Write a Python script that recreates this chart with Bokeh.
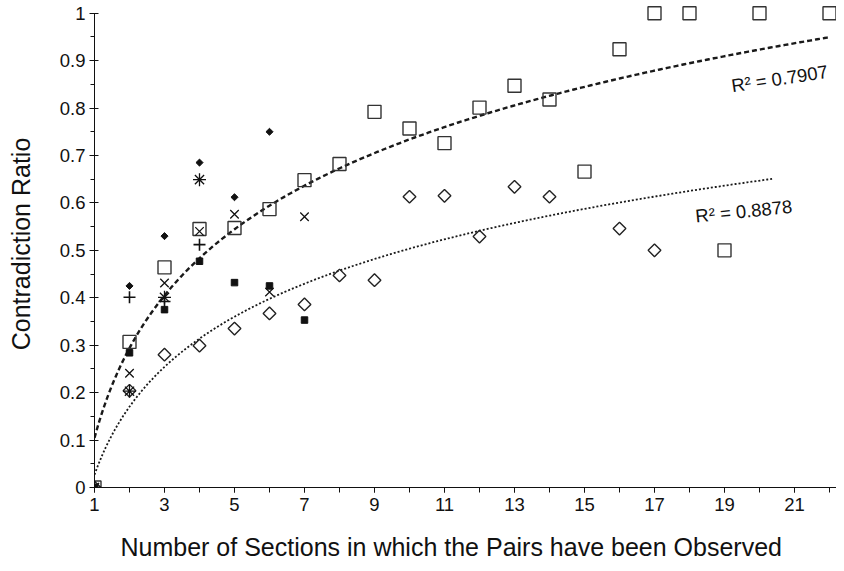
import numpy as np
from bokeh.plotting import figure
from bokeh.models import Range1d, FixedTicker, NumeralTickFormatter, Title
from bokeh.embed import file_html
from bokeh.resources import INLINE
from bokeh.core.properties import value

# ---------------- data ----------------
sections_sq = [1, 2, 3, 4, 5, 6, 7, 8, 9, 10, 11, 12, 13, 14, 15, 16, 17, 18, 19, 20, 22]
ratio_sq = [0.0, 0.307, 0.464, 0.545, 0.547, 0.587, 0.648, 0.682, 0.792, 0.757, 0.726,
            0.801, 0.847, 0.818, 0.666, 0.924, 1.0, 1.0, 0.5, 1.0, 1.0]
sections_dm = [1, 2, 3, 4, 5, 6, 7, 8, 9, 10, 11, 12, 13, 14, 16, 17]
ratio_dm = [0.0, 0.204, 0.280, 0.299, 0.335, 0.367, 0.386, 0.447, 0.437, 0.613, 0.615,
            0.529, 0.634, 0.613, 0.546, 0.500]
sections_fd = [1, 2, 3, 4, 5, 6]
ratio_fd = [0.0, 0.425, 0.530, 0.685, 0.612, 0.750]
sections_fs = [1, 2, 3, 4, 5, 6, 7]
ratio_fs = [0.0, 0.284, 0.375, 0.477, 0.432, 0.425, 0.353]
sections_x = [1, 2, 3, 4, 5, 6, 7]
ratio_x = [0.0, 0.241, 0.431, 0.540, 0.576, 0.412, 0.571]
sections_ast = [1, 2, 3, 4]
ratio_ast = [0.0, 0.203, 0.401, 0.649]
sections_pl = [1, 2, 3, 4]
ratio_pl = [0.0, 0.401, 0.392, 0.512]

x_ticks_labeled = [1, 3, 5, 7, 9, 11, 13, 15, 17, 19, 21]
x_ticks_all = [1, 2, 3, 4, 5, 6, 7, 8, 9, 10, 11, 12, 13, 14, 15, 16, 17, 18, 19, 20, 21, 22]
y_ticks = [0, 0.1, 0.2, 0.3, 0.4, 0.5, 0.6, 0.7, 0.8, 0.9, 1.0]
y_minor = [0.05, 0.15, 0.25, 0.35, 0.45, 0.55, 0.65, 0.75, 0.85, 0.95]

r2_sq_label = "R\u00b2 = 0.7907"
r2_dm_label = "R\u00b2 = 0.8878"
x_title = "Number of Sections in which the Pairs have been Observed"
y_title = "Contradiction Ratio"

FONT = "Liberation Sans"
INK = "#111111"

# ---------------- figure ----------------
PX_PER_X = 35.0
PX_PER_Y = 474.3
FW, FH = 742, 487
p = figure(frame_width=FW, frame_height=FH,
           x_range=Range1d(1, 1 + FW / PX_PER_X), y_range=Range1d(0, FH / PX_PER_Y),
           output_backend="svg", toolbar_location=None,
           min_border_left=94, min_border_right=0, min_border_top=0, min_border_bottom=20)
p.outline_line_color = None
p.grid.visible = False
p.background_fill_color = "white"
p.border_fill_color = "white"

# axes
xa = p.xaxis[0]
xa.ticker = FixedTicker(ticks=x_ticks_labeled, minor_ticks=x_ticks_all)
xa.major_tick_in = 0
xa.major_tick_out = 5
xa.minor_tick_in = 0
xa.minor_tick_out = 5
xa.axis_line_color = INK
xa.major_tick_line_color = INK
xa.minor_tick_line_color = INK
xa.major_label_text_font = FONT
xa.major_label_text_font_size = "18.5px"
xa.major_label_text_color = INK
xa.major_label_standoff = 5

ya = p.yaxis[0]
ya.ticker = FixedTicker(ticks=y_ticks, minor_ticks=y_minor)
ya.formatter = NumeralTickFormatter(format="0.[0]")
ya.major_tick_in = 4
ya.major_tick_out = 5
ya.minor_tick_in = 0
ya.minor_tick_out = 4
ya.axis_line_color = INK
ya.major_tick_line_color = INK
ya.minor_tick_line_color = INK
ya.major_label_text_font = FONT
ya.major_label_text_font_size = "18.5px"
ya.major_label_text_color = INK
ya.major_label_standoff = 4
ya.bounds = (0, 1)
ya.axis_label = y_title
ya.axis_label_text_font = FONT
ya.axis_label_text_font_size = "25px"
ya.axis_label_text_font_style = "normal"
ya.axis_label_text_color = INK
ya.axis_label_standoff = 22

p.add_layout(Title(text=x_title, align="left", offset=26, text_font=FONT,
                   text_font_size="25px", text_font_style="normal",
                   text_color=INK, standoff=34), "below")

# ---------------- trendlines (log fits) ----------------
def log_fit(xs, ys):
    a, b = np.polyfit(np.log(np.array(xs, float)), np.array(ys, float), 1)
    return a, b

a_sq, b_sq = log_fit(sections_sq, ratio_sq)
a_dm, b_dm = log_fit(sections_dm, ratio_dm)
FORWARD_DM = 3.36

t_sq = np.linspace(min(sections_sq), max(sections_sq), 300)
t_dm = np.linspace(min(sections_dm), max(sections_dm) + FORWARD_DM, 300)
p.line(t_sq, a_sq * np.log(t_sq) + b_sq, line_color="#1a1a1a", line_width=2.4, line_dash="5 3")
p.line(t_dm, a_dm * np.log(t_dm) + b_dm, line_color="#1a1a1a", line_width=1.8, line_dash="2 2")

# ---------------- markers ----------------
p.scatter(sections_sq, ratio_sq, marker="square", size=13, fill_alpha=0,
          line_color="#333333", line_width=1.4)
p.scatter(sections_dm, ratio_dm, marker="square", angle=np.pi / 4, size=9, fill_alpha=0,
          line_color="#222222", line_width=1.4)
p.scatter(sections_fs, ratio_fs, marker="square", size=6.5, fill_color=INK, line_color=INK)
p.scatter(sections_fd, ratio_fd, marker="square", angle=np.pi / 4, size=5, fill_color=INK,
          line_color=INK)
p.scatter(sections_x, ratio_x, marker="x", size=12, line_color=INK, line_width=1.3)
p.scatter(sections_ast, ratio_ast, marker="asterisk", size=13, line_color=INK, line_width=1.3)
p.scatter(sections_pl, ratio_pl, marker="cross", size=12, line_color=INK, line_width=1.6)

# ---------------- R^2 labels ----------------
LAB_X_SQ = 19.2
LAB_X_DM = 18.17
p.text(x=[LAB_X_SQ], y=[a_sq * np.log(LAB_X_SQ) + b_sq], text=[r2_sq_label],
       angle=0.15, y_offset=31, text_font=value(FONT), text_font_size="18.5px",
       text_color=INK, text_baseline="alphabetic")
p.text(x=[LAB_X_DM], y=[a_dm * np.log(LAB_X_DM) + b_dm], text=[r2_dm_label],
       angle=0.10, y_offset=26, text_font=value(FONT), text_font_size="18.5px",
       text_color=INK, text_baseline="alphabetic")

open("out.html", "w").write(file_html(p, INLINE))
